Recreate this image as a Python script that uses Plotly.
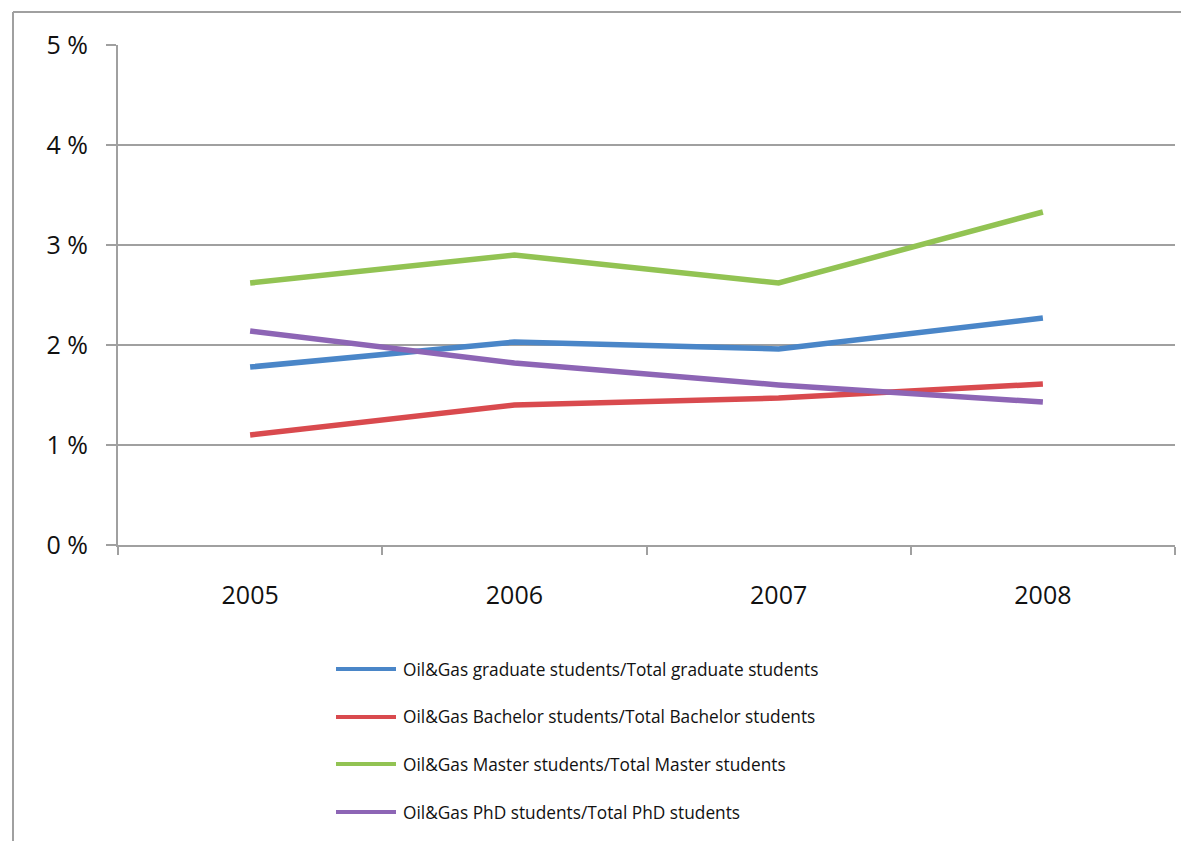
import plotly.graph_objects as go

years = ["2005", "2006", "2007", "2008"]
graduate = [1.78, 2.03, 1.96, 2.27]
bachelor = [1.10, 1.40, 1.47, 1.61]
master = [2.62, 2.90, 2.62, 3.33]
phd = [2.14, 1.82, 1.60, 1.43]

series_names = [
    "Oil&Gas graduate students/Total graduate students",
    "Oil&Gas Bachelor students/Total Bachelor students",
    "Oil&Gas Master students/Total Master students",
    "Oil&Gas PhD students/Total PhD students",
]
series_values = [graduate, bachelor, master, phd]
series_colors = ["#4A86C8", "#D94A4E", "#92C353", "#8D65B5"]

y_ticks = [0, 1, 2, 3, 4, 5]
y_ticktext = ["0 %", "1 %", "2 %", "3 %", "4 %", "5 %"]

FONT = "Open Sans"

# plot area in page pixels (page body has an 8px margin)
PX0, PX1, PY0, PY1 = 118, 1175, 45, 545
W, H = PX1 - PX0, PY1 - PY0


def px_x(px):
    return (px - PX0) / W


def px_y(py):
    return (PY1 - py) / H


fig = go.Figure()
for name, vals, col in zip(series_names, series_values, series_colors):
    fig.add_trace(go.Scatter(
        x=years, y=vals, name=name, mode="lines",
        line=dict(color=col, width=5.5),
        showlegend=False,
    ))

fig.update_layout(
    width=1189, height=841,
    margin=dict(l=PX0 - 8, r=1189 - (PX1 - 8), t=PY0 - 8, b=841 - (PY1 - 8)),
    paper_bgcolor="white", plot_bgcolor="white",
    font=dict(family=FONT, color="#111111"),
    showlegend=False,
    xaxis=dict(
        type="category", range=[-0.5, 3.5],
        showline=True, linecolor="#A0A0A0", linewidth=2,
        ticks="outside", tickson="boundaries", ticklen=8, tickcolor="#A0A0A0", tickwidth=2,
        showgrid=False, zeroline=False,
        tickfont=dict(family=FONT, size=25, color="#111111"),
        ticklabelstandoff=27,
    ),
    yaxis=dict(
        range=[0, 5], tickvals=y_ticks, ticktext=y_ticktext,
        showline=True, linecolor="#A0A0A0", linewidth=2,
        ticks="outside", ticklen=10, tickcolor="#A0A0A0", tickwidth=2,
        showgrid=True, gridcolor="#A0A0A0", gridwidth=2,
        zeroline=False,
        tickfont=dict(family=FONT, size=25, color="#111111"),
        ticklabelstandoff=13,
    ),
)

# legend drawn below the plot
legend_rows = [669, 717, 764, 812]
for name, col, ry in zip(series_names, series_colors, legend_rows):
    fig.add_shape(type="line", xref="paper", yref="paper",
                  x0=px_x(336), x1=px_x(396), y0=px_y(ry), y1=px_y(ry),
                  line=dict(color=col, width=4))
    fig.add_annotation(xref="paper", yref="paper", x=px_x(401), y=px_y(ry),
                       xanchor="left", yanchor="middle", showarrow=False,
                       text=name, font=dict(family=FONT, size=17.3, color="#111111"))

# outer chart border (top and left edges visible)
fig.add_shape(type="line", xref="paper", yref="paper",
              x0=px_x(13), x1=px_x(1250), y0=px_y(12), y1=px_y(12),
              line=dict(color="#A0A0A0", width=2))
fig.add_shape(type="line", xref="paper", yref="paper",
              x0=px_x(13), x1=px_x(13), y0=px_y(12), y1=px_y(900),
              line=dict(color="#A0A0A0", width=2))

fig.write_html("out.html")
